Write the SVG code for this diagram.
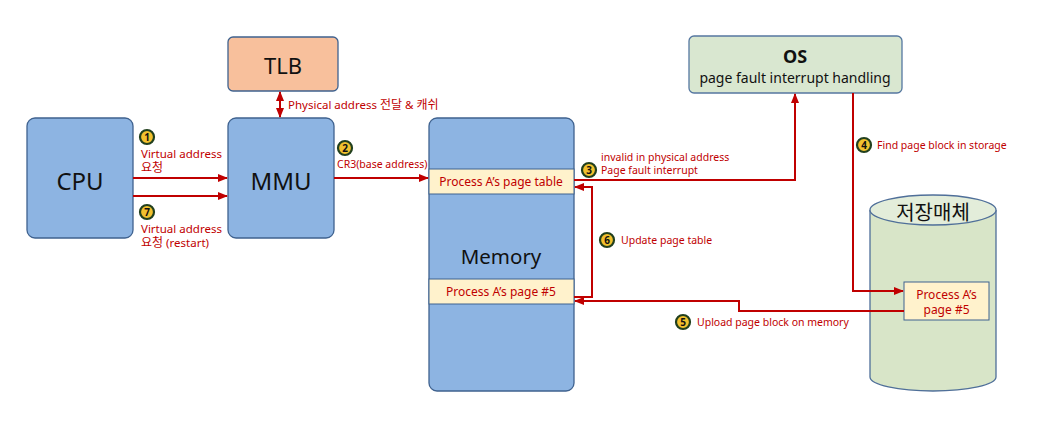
<svg xmlns="http://www.w3.org/2000/svg" width="1041" height="439" viewBox="0 0 1041 439">
<style>
.blue{fill:#8DB4E2;stroke:#3F628F;stroke-width:1.3}
.strip{fill:#FFF2CC;stroke:#3F628F;stroke-width:1}
.big{font-family:"Noto Sans","Noto Sans CJK KR",sans-serif;fill:#111;text-anchor:middle;dominant-baseline:central}
.lbl{font-family:"Noto Sans","Noto Sans CJK KR",sans-serif;font-size:10.5px;fill:#C00000}
.lbl2{font-size:11.5px}
.ko{font-size:12px}
.red{font-family:"Noto Sans","Noto Sans CJK KR",sans-serif;font-size:12px;fill:#C00000;text-anchor:middle;dominant-baseline:central}
.conn{fill:none;stroke:#C00000;stroke-width:2}
.num circle{fill:#F2C12E;stroke:#22401E;stroke-width:2.2}
.num text{font-family:"Noto Sans",sans-serif;font-size:10px;font-weight:bold;fill:#111;text-anchor:middle;dominant-baseline:central}
</style>
<defs>
<marker id="ah" viewBox="0 0 10 10" refX="9" refY="5" markerWidth="5" markerHeight="5" orient="auto-start-reverse" markerUnits="strokeWidth">
<path d="M0,1 L10,5 L0,9 z" fill="#C00000"/>
</marker>
</defs>
<rect width="1041" height="439" fill="#fff"/>

<g id="cpu"><rect class="blue" x="27" y="118" width="106" height="120" rx="8"/><text class="big" x="80" y="180" font-size="24">CPU</text></g>
<g id="tlb"><rect x="228" y="37" width="110" height="54" rx="5" fill="#F8C09C" stroke="#3F628F" stroke-width="1.3"/><text class="big" x="283" y="65" font-size="22">TLB</text></g>
<g id="mmu"><rect class="blue" x="228" y="118" width="106" height="120" rx="8"/><text class="big" x="281" y="180" font-size="24">MMU</text></g>
<g id="memory"><rect class="blue" x="429" y="118" width="145" height="273" rx="8"/><text class="big" x="501" y="256" font-size="20.5">Memory</text>
<rect class="strip" x="429" y="169" width="145" height="25"/><text class="red" x="501" y="181.5">Process A’s page table</text>
<rect class="strip" x="429" y="279" width="145" height="25"/><text class="red" x="501" y="291.5">Process A’s page #5</text></g>
<g id="os"><rect x="689" y="36" width="213" height="57" rx="5" fill="#D9E7D0" stroke="#5577A0" stroke-width="1.3"/><text class="big" x="795" y="56" font-size="18" font-weight="bold">OS</text><text class="big" x="795" y="77" font-size="14">page fault interrupt handling</text></g>
<g id="storage"><path d="M870,210 L870,377 A63,14 0 0 0 996,377 L996,210" fill="#D8E5C8" stroke="#4F6F99" stroke-width="1.3"/><ellipse cx="933" cy="210" rx="63" ry="15" fill="#E3EDDA" stroke="#4F6F99" stroke-width="1.3"/><text class="big" x="933" y="212" font-size="20">저장매체</text>
<rect class="strip" x="904" y="282" width="85" height="38"/><text class="red" x="946.5" y="294">Process A’s</text><text class="red" x="946.5" y="309">page #5</text></g>

<g id="connectors">
<line class="conn" x1="133" y1="178" x2="227" y2="178" marker-end="url(#ah)"/>
<line class="conn" x1="133" y1="196" x2="227" y2="196" marker-end="url(#ah)"/>
<line class="conn" x1="280" y1="92" x2="280" y2="117" marker-start="url(#ah)" marker-end="url(#ah)"/>
<line class="conn" x1="334" y1="178" x2="428" y2="178" marker-end="url(#ah)"/>
<polyline class="conn" points="574,180 795,180 795,94" marker-end="url(#ah)"/>
<polyline class="conn" points="853,93 853,291 903,291" marker-end="url(#ah)"/>
<polyline class="conn" points="904,311 739,311 739,301 575,301" marker-end="url(#ah)"/>
<polyline class="conn" points="574,297 592,297 592,187 575,187" marker-end="url(#ah)"/>
</g>

<g id="labels">
<g class="num"><circle cx="147" cy="137" r="7"/><text x="147" y="137">1</text></g>
<text class="lbl lbl2" x="141" y="158">Virtual address</text><text class="lbl ko" x="141" y="172">요청</text>
<g class="num"><circle cx="147" cy="212" r="7"/><text x="147" y="212">7</text></g>
<text class="lbl lbl2" x="141" y="233">Virtual address</text><text class="lbl lbl2" x="141" y="247"><tspan class="ko">요청</tspan> (restart)</text>
<text class="lbl lbl2" x="288" y="109">Physical address <tspan class="ko">전달</tspan> &amp; <tspan class="ko">캐쉬</tspan></text>
<g class="num"><circle cx="345" cy="148" r="7"/><text x="345" y="148">2</text></g>
<text class="lbl" x="337" y="168">CR3(base address)</text>
<g class="num"><circle cx="589" cy="170" r="7"/><text x="589" y="170">3</text></g>
<text class="lbl" x="601" y="161">invalid in physical address</text><text class="lbl" x="601" y="174">Page fault interrupt</text>
<g class="num"><circle cx="864" cy="145" r="7"/><text x="864" y="145">4</text></g>
<text class="lbl" x="877" y="149">Find page block in storage</text>
<g class="num"><circle cx="607" cy="240" r="7"/><text x="607" y="240">6</text></g>
<text class="lbl" x="621" y="244">Update page table</text>
<g class="num"><circle cx="683" cy="322" r="7"/><text x="683" y="322">5</text></g>
<text class="lbl" x="697" y="326">Upload page block on memory</text>
</g>
</svg>
